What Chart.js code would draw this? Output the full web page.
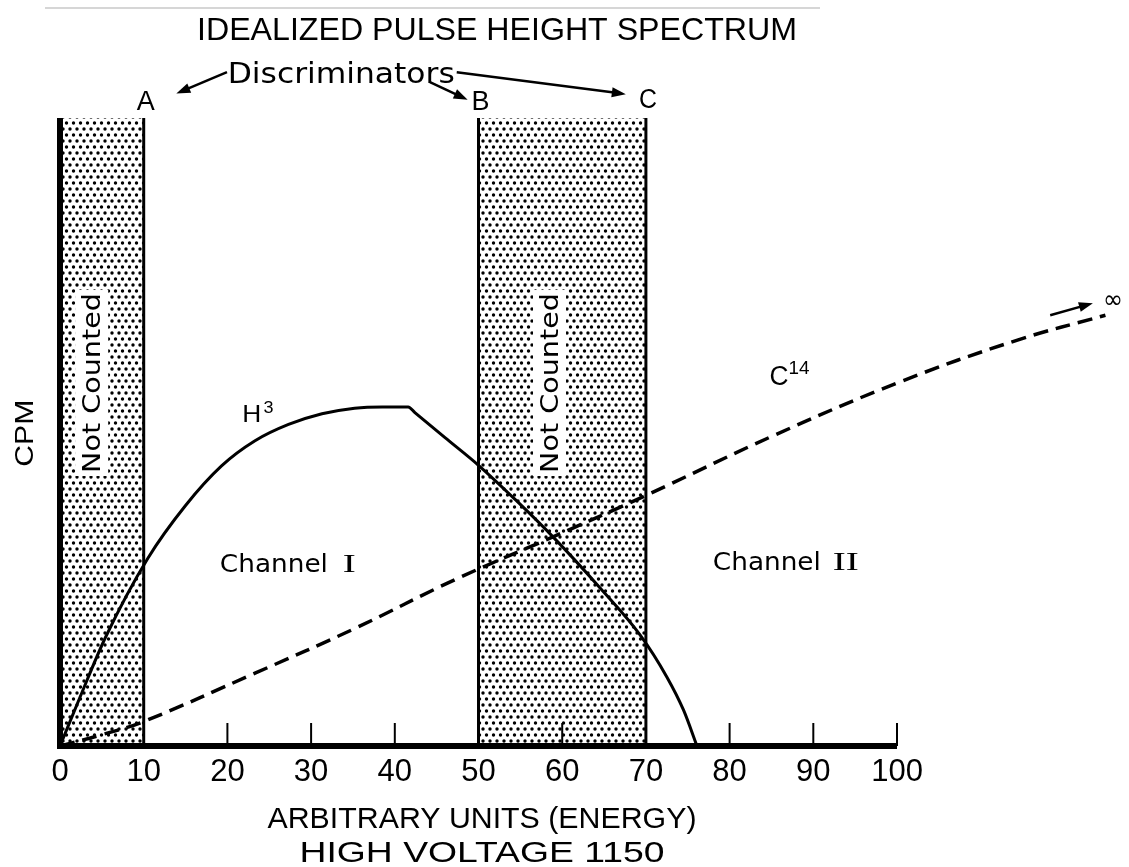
<!DOCTYPE html>
<html>
<head>
<meta charset="utf-8">
<script src="https://cdn.jsdelivr.net/npm/chart.js@4/dist/chart.umd.min.js"></script>
<style>body{margin:0;background:#fff}</style>
</head>
<body>
<canvas id="espectro" width="1129" height="867"></canvas>
<script>
// curvas (x = unidades de energia, y = CPM relativo 0-100)
var h3X = [0, 2.4, 5.4, 10.5, 15, 19.3, 23.3, 27.3, 31.3, 35.2, 38.5, 41.6, 42.4, 46, 50, 54.5, 58.9, 64.5, 69.3, 72.5, 74.5, 76.1];
var h3Y = [0, 7.8, 17.2, 29.9, 38.3, 44.6, 48.6, 51.2, 52.9, 53.8, 54, 54, 53.1, 49.1, 44.7, 39.1, 33.3, 25.2, 17.7, 11, 5.7, 0];
var c14X = [0, 5, 10, 23.3, 35.2, 47.2, 58.9, 70, 85.2, 100.4, 114.3, 124.9];
var c14Y = [0, 1.8, 3.9, 11.6, 18.7, 26.5, 33.3, 39.9, 49.4, 58, 64.6, 68.6];
var discriminadores = [10, 50, 70];
var nombresDisc = ['A', 'B', 'C'];
var bandasInicio = [0, 50];
var bandasFin = [10, 70];
var valoresX = [0, 10, 20, 30, 40, 50, 60, 70, 80, 90, 100];

var canvas = document.getElementById('espectro');
var ctx = canvas.getContext('2d');

// textura de puntos para las zonas "Not Counted"
var tile = document.createElement('canvas');
tile.width = 7; tile.height = 12;
var tc = tile.getContext('2d');
tc.fillStyle = '#000';
[[3.5, 3], [0, 9], [7, 9]].forEach(function (p) {
    tc.beginPath(); tc.arc(p[0], p[1], 1.7, 0, Math.PI * 2); tc.fill();
});
var punteado = ctx.createPattern(tile, 'repeat');

function pares(xs, ys) {
    return xs.map(function (x, i) { return { x: x, y: ys[i] }; });
}

function texto(c, s, x, y, size, fam, ancho, rot) {
    c.save();
    c.translate(x, y);
    if (rot) c.rotate(rot);
    c.font = size + 'px ' + fam;
    c.textAlign = 'center';
    c.textBaseline = 'alphabetic';
    if (ancho) c.scale(ancho / c.measureText(s).width, 1);
    c.fillStyle = '#000';
    c.fillText(s, 0, 0);
    c.restore();
}

function flecha(c, x1, y1, x2, y2) {
    var a = Math.atan2(y2 - y1, x2 - x1);
    c.save();
    c.strokeStyle = '#000'; c.fillStyle = '#000'; c.lineWidth = 2.5;
    c.beginPath(); c.moveTo(x1, y1); c.lineTo(x2 - 8 * Math.cos(a), y2 - 8 * Math.sin(a)); c.stroke();
    c.beginPath();
    c.moveTo(x2, y2);
    c.lineTo(x2 - 14 * Math.cos(a) + 5 * Math.sin(a), y2 - 14 * Math.sin(a) - 5 * Math.cos(a));
    c.lineTo(x2 - 14 * Math.cos(a) - 5 * Math.sin(a), y2 - 14 * Math.sin(a) + 5 * Math.cos(a));
    c.closePath(); c.fill();
    c.restore();
}

var SANS = '"Liberation Sans", Arial, sans-serif';
var ROUND = '"DejaVu Sans", sans-serif';

var anotaciones = {
    id: 'anotaciones',
    afterDatasetsDraw: function (chart) {
        var c = chart.ctx, xs = chart.scales.x, ys = chart.scales.y;
        function X(v) { return xs.getPixelForValue(v); }
        function Y(v) { return ys.getPixelForValue(v); }
        var x0 = X(0), y0 = Y(0), yTop = Y(100);

        // lineas de los discriminadores
        c.save();
        c.strokeStyle = '#000';
        c.lineWidth = 3;
        discriminadores.forEach(function (d) {
            c.beginPath(); c.moveTo(X(d), yTop); c.lineTo(X(d), y0); c.stroke();
        });
        // marcas del eje x
        c.lineWidth = 2;
        valoresX.forEach(function (v) {
            if (v === 0 || discriminadores.indexOf(v) >= 0) return;
            c.beginPath(); c.moveTo(X(v), y0); c.lineTo(X(v), y0 - 23); c.stroke();
        });
        // ejes
        c.lineWidth = 6;
        c.beginPath(); c.moveTo(x0, yTop); c.lineTo(x0, y0); c.stroke();
        c.beginPath(); c.moveTo(x0 - 3, y0); c.lineTo(X(100), y0); c.stroke();
        // linea tenue del escaneo arriba
        c.strokeStyle = '#c8c8c8'; c.lineWidth = 1.5;
        c.beginPath(); c.moveTo(45, 8); c.lineTo(820, 8); c.stroke();
        c.restore();

        // rotulos "Not Counted"
        [4.8, 59.5].forEach(function (bx) {
            var px = X(bx), pc = Y(57.8);
            c.fillStyle = '#fff';
            c.fillRect(px - 25, pc - 93, 33, 186);
            texto(c, 'Not Counted', px, pc, 25, ROUND, 180, -Math.PI / 2);
        });

        // CPM
        texto(c, 'CPM', X(-3.2), Y(49.8), 26, SANS, 67, -Math.PI / 2);

        // etiquetas de curvas
        texto(c, 'H', X(22.9), Y(51.6), 24, SANS, 19);
        texto(c, '3', X(24.9), Y(53.1), 16, SANS, 10);
        texto(c, 'C', X(85.9), Y(57.5), 27, SANS, 19);
        texto(c, '14', X(88.3), Y(59.2), 19, SANS, 21);

        // canales
        [[19.1, 27.7, 'I', 123, 13], [78.0, 28.0, 'II', 120, 26]].forEach(function (k) {
            var sx = X(k[0]), by = Y(k[1]);
            texto(c, 'Channel', sx + 54, by, 25, ROUND, 108);
            texto(c, k[2], sx + k[3] + k[4] / 2, by, 25, '"Liberation Serif", serif', k[4]);
        });

        // discriminadores A B C
        var baseDisc = [101.3, 101.3, 101.6];
        discriminadores.forEach(function (d, i) {
            texto(c, nombresDisc[i], X(d) + 2, Y(baseDisc[i]), 27, SANS, 18);
        });
        texto(c, 'Discriminators', X(33.6), Y(105.6), 29, ROUND, 227);
        flecha(c, X(19.95), Y(107.3), X(13.9), Y(103.9));
        flecha(c, X(44.2), Y(105.7), X(48.7), Y(102.9));
        flecha(c, X(47.4), Y(107.3), X(67.6), Y(103.8));

        // flecha al infinito
        flecha(c, X(118.3), Y(68.6), X(123.4), Y(70.5));
        texto(c, '\u221E', X(125.8), Y(69.8), 26, ROUND, 20);

        // titulos
        texto(c, 'IDEALIZED PULSE HEIGHT SPECTRUM', 497, 40, 31, SANS, 600);
        texto(c, 'ARBITRARY UNITS (ENERGY)', 482, 828, 30, SANS, 429);
        texto(c, 'HIGH VOLTAGE 1150', 482, 862, 30, SANS, 365);
    }
};

var bandas = bandasInicio.map(function (ini, i) {
    return {
        label: 'Not Counted ' + (i + 1),
        data: [{ x: ini, y: 100 }, { x: bandasFin[i], y: 100 }],
        fill: 'origin',
        backgroundColor: punteado,
        borderWidth: 0,
        pointRadius: 0,
        order: 5
    };
});

var espectroChart = new Chart(ctx, {
    type: 'line',
    data: {
        datasets: [{
            label: 'H3',
            data: pares(h3X, h3Y),
            borderColor: '#000',
            borderWidth: 3,
            pointRadius: 0,
            cubicInterpolationMode: 'monotone',
            fill: false,
            order: 1
        }, {
            label: 'C14',
            data: pares(c14X, c14Y),
            borderColor: '#000',
            borderWidth: 3.5,
            borderDash: [15, 8],
            pointRadius: 0,
            tension: 0.4,
            fill: false,
            order: 1
        }].concat(bandas)
    },
    options: {
        responsive: false,
        animation: false,
        layout: { padding: { left: 60, right: 6, top: 118, bottom: 0 } },
        plugins: {
            legend: { display: false },
            tooltip: { enabled: false }
        },
        scales: {
            x: {
                type: 'linear',
                min: 0,
                max: 127,
                grid: { display: false, drawTicks: false },
                border: { display: false },
                afterBuildTicks: function (s) {
                    s.ticks = valoresX.map(function (v) { return { value: v }; });
                },
                afterFit: function (s) { s.height = 121; },
                ticks: {
                    padding: 8,
                    color: '#000',
                    maxRotation: 0,
                    autoSkip: false,
                    font: { family: SANS, size: 31 }
                }
            },
            y: { display: false, min: 0, max: 100 }
        }
    },
    plugins: [anotaciones]
});
</script>
</body>
</html>
